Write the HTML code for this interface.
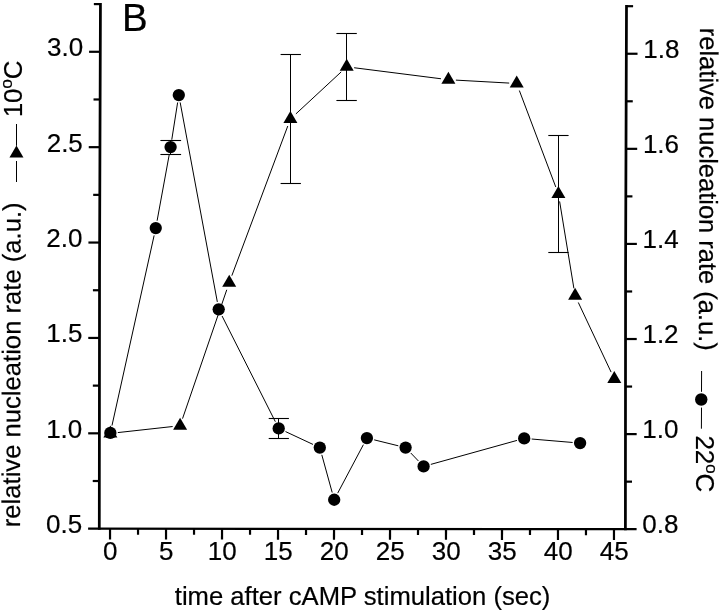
<!DOCTYPE html>
<html lang="en">
<head>
<meta charset="utf-8">
<title>Relative nucleation rate after cAMP stimulation</title>
<style>
html,body{margin:0;padding:0;background:#fff;}
body{width:720px;height:611px;overflow:hidden;}
svg{display:block;filter:grayscale(1);}
svg text{font-family:"Liberation Sans", Arial, Helvetica, sans-serif;fill:#000;stroke:#000;stroke-width:0.2px;}
</style>
</head>
<body>
<svg width="720" height="611" viewBox="0 0 720 611">
<rect width="720" height="611" fill="#fff"/>
<polyline points="100.45,3 99.54,267 99.3,529.8" fill="none" stroke="#000" stroke-width="2.75" stroke-linejoin="round"/>
<polyline points="626.5,5.1 625.58,267 625.4,530.3" fill="none" stroke="#000" stroke-width="2.75" stroke-linejoin="round"/>
<line x1="88.1" y1="528.7" x2="636.6" y2="529.2" stroke="#000" stroke-width="2.2" stroke-linecap="butt"/>
<line x1="92.74" y1="481.01" x2="99.34" y2="481.01" stroke="#000" stroke-width="2.2" stroke-linecap="butt"/>
<line x1="88.19" y1="433.32" x2="99.39" y2="433.32" stroke="#000" stroke-width="2.2" stroke-linecap="butt"/>
<line x1="92.83" y1="385.63" x2="99.43" y2="385.63" stroke="#000" stroke-width="2.2" stroke-linecap="butt"/>
<line x1="88.27" y1="337.94" x2="99.47" y2="337.94" stroke="#000" stroke-width="2.2" stroke-linecap="butt"/>
<line x1="92.92" y1="290.25" x2="99.52" y2="290.25" stroke="#000" stroke-width="2.2" stroke-linecap="butt"/>
<line x1="88.42" y1="242.55" x2="99.62" y2="242.55" stroke="#000" stroke-width="2.2" stroke-linecap="butt"/>
<line x1="93.19" y1="194.86" x2="99.79" y2="194.86" stroke="#000" stroke-width="2.2" stroke-linecap="butt"/>
<line x1="88.75" y1="147.17" x2="99.95" y2="147.17" stroke="#000" stroke-width="2.2" stroke-linecap="butt"/>
<line x1="93.52" y1="99.48" x2="100.12" y2="99.48" stroke="#000" stroke-width="2.2" stroke-linecap="butt"/>
<line x1="89.08" y1="51.79" x2="100.28" y2="51.79" stroke="#000" stroke-width="2.2" stroke-linecap="butt"/>
<line x1="93.85" y1="4.1" x2="100.45" y2="4.1" stroke="#000" stroke-width="2.2" stroke-linecap="butt"/>
<line x1="625.43" y1="481.65" x2="632.03" y2="481.65" stroke="#000" stroke-width="2.2" stroke-linecap="butt"/>
<line x1="625.47" y1="434.11" x2="636.67" y2="434.11" stroke="#000" stroke-width="2.2" stroke-linecap="butt"/>
<line x1="625.5" y1="386.56" x2="632.1" y2="386.56" stroke="#000" stroke-width="2.2" stroke-linecap="butt"/>
<line x1="625.53" y1="339.02" x2="636.73" y2="339.02" stroke="#000" stroke-width="2.2" stroke-linecap="butt"/>
<line x1="625.56" y1="291.47" x2="632.16" y2="291.47" stroke="#000" stroke-width="2.2" stroke-linecap="butt"/>
<line x1="625.66" y1="243.93" x2="636.86" y2="243.93" stroke="#000" stroke-width="2.2" stroke-linecap="butt"/>
<line x1="625.83" y1="196.38" x2="632.43" y2="196.38" stroke="#000" stroke-width="2.2" stroke-linecap="butt"/>
<line x1="626" y1="148.84" x2="637.2" y2="148.84" stroke="#000" stroke-width="2.2" stroke-linecap="butt"/>
<line x1="626.16" y1="101.29" x2="632.76" y2="101.29" stroke="#000" stroke-width="2.2" stroke-linecap="butt"/>
<line x1="626.33" y1="53.75" x2="637.53" y2="53.75" stroke="#000" stroke-width="2.2" stroke-linecap="butt"/>
<line x1="626.5" y1="6.2" x2="633.1" y2="6.2" stroke="#000" stroke-width="2.2" stroke-linecap="butt"/>
<line x1="110.04" y1="528.71" x2="110.02" y2="539.51" stroke="#000" stroke-width="2.2" stroke-linecap="butt"/>
<line x1="138.04" y1="528.74" x2="138.03" y2="534.74" stroke="#000" stroke-width="2.2" stroke-linecap="butt"/>
<line x1="166.04" y1="528.76" x2="166.01" y2="539.56" stroke="#000" stroke-width="2.2" stroke-linecap="butt"/>
<line x1="194.03" y1="528.79" x2="194.02" y2="534.79" stroke="#000" stroke-width="2.2" stroke-linecap="butt"/>
<line x1="222.03" y1="528.82" x2="222.01" y2="539.62" stroke="#000" stroke-width="2.2" stroke-linecap="butt"/>
<line x1="250.03" y1="528.84" x2="250.02" y2="534.84" stroke="#000" stroke-width="2.2" stroke-linecap="butt"/>
<line x1="278.03" y1="528.87" x2="278.01" y2="539.67" stroke="#000" stroke-width="2.2" stroke-linecap="butt"/>
<line x1="306.02" y1="528.9" x2="306.01" y2="534.9" stroke="#000" stroke-width="2.2" stroke-linecap="butt"/>
<line x1="334.02" y1="528.92" x2="334" y2="539.72" stroke="#000" stroke-width="2.2" stroke-linecap="butt"/>
<line x1="362.02" y1="528.95" x2="362.01" y2="534.95" stroke="#000" stroke-width="2.2" stroke-linecap="butt"/>
<line x1="390.02" y1="528.98" x2="390" y2="539.78" stroke="#000" stroke-width="2.2" stroke-linecap="butt"/>
<line x1="418.02" y1="529" x2="418" y2="535" stroke="#000" stroke-width="2.2" stroke-linecap="butt"/>
<line x1="446.01" y1="529.03" x2="445.99" y2="539.83" stroke="#000" stroke-width="2.2" stroke-linecap="butt"/>
<line x1="474.01" y1="529.06" x2="474" y2="535.06" stroke="#000" stroke-width="2.2" stroke-linecap="butt"/>
<line x1="502.01" y1="529.08" x2="501.99" y2="539.88" stroke="#000" stroke-width="2.2" stroke-linecap="butt"/>
<line x1="530.01" y1="529.11" x2="529.99" y2="535.11" stroke="#000" stroke-width="2.2" stroke-linecap="butt"/>
<line x1="558" y1="529.14" x2="557.98" y2="539.94" stroke="#000" stroke-width="2.2" stroke-linecap="butt"/>
<line x1="586" y1="529.16" x2="585.99" y2="535.16" stroke="#000" stroke-width="2.2" stroke-linecap="butt"/>
<line x1="614" y1="529.19" x2="613.98" y2="539.99" stroke="#000" stroke-width="2.2" stroke-linecap="butt"/>
<text x="110.19" y="559.71" font-size="26" text-anchor="middle">0</text>
<text x="166.19" y="559.76" font-size="26" text-anchor="middle">5</text>
<text x="222.18" y="559.82" font-size="26" text-anchor="middle">10</text>
<text x="278.18" y="559.87" font-size="26" text-anchor="middle">15</text>
<text x="334.17" y="559.92" font-size="26" text-anchor="middle">20</text>
<text x="390.17" y="559.98" font-size="26" text-anchor="middle">25</text>
<text x="446.16" y="560.03" font-size="26" text-anchor="middle">30</text>
<text x="502.16" y="560.08" font-size="26" text-anchor="middle">35</text>
<text x="558.15" y="560.14" font-size="26" text-anchor="middle">40</text>
<text x="614.15" y="560.19" font-size="26" text-anchor="middle">45</text>
<text x="82.2" y="533.05" font-size="26" text-anchor="end">0.5</text>
<text x="82.29" y="437.67" font-size="26" text-anchor="end">1.0</text>
<text x="82.37" y="342.29" font-size="26" text-anchor="end">1.5</text>
<text x="82.52" y="246.9" font-size="26" text-anchor="end">2.0</text>
<text x="82.85" y="151.52" font-size="26" text-anchor="end">2.5</text>
<text x="83.18" y="56.14" font-size="26" text-anchor="end">3.0</text>
<text x="642.3" y="533.4" font-size="26" text-anchor="start">0.8</text>
<text x="642.37" y="438.31" font-size="26" text-anchor="start">1.0</text>
<text x="642.43" y="343.22" font-size="26" text-anchor="start">1.2</text>
<text x="642.56" y="248.13" font-size="26" text-anchor="start">1.4</text>
<text x="642.9" y="153.04" font-size="26" text-anchor="start">1.6</text>
<text x="643.23" y="57.95" font-size="26" text-anchor="start">1.8</text>
<line x1="111.97" y1="425.58" x2="154.13" y2="235.42" stroke="#000" stroke-width="1" stroke-linecap="butt"/>
<line x1="157.1" y1="220.72" x2="169.25" y2="154.48" stroke="#000" stroke-width="1" stroke-linecap="butt"/>
<line x1="171.77" y1="139.69" x2="177.63" y2="102.46" stroke="#000" stroke-width="1" stroke-linecap="butt"/>
<line x1="180.17" y1="102.42" x2="217.33" y2="301.93" stroke="#000" stroke-width="1" stroke-linecap="butt"/>
<line x1="222.07" y1="316" x2="275.33" y2="421.7" stroke="#000" stroke-width="1" stroke-linecap="butt"/>
<line x1="285.5" y1="431.57" x2="313" y2="444.43" stroke="#000" stroke-width="1" stroke-linecap="butt"/>
<line x1="321.8" y1="454.83" x2="332.2" y2="492.52" stroke="#000" stroke-width="1" stroke-linecap="butt"/>
<line x1="337.71" y1="493.12" x2="363.39" y2="444.68" stroke="#000" stroke-width="1" stroke-linecap="butt"/>
<line x1="374.18" y1="439.85" x2="398.32" y2="445.8" stroke="#000" stroke-width="1" stroke-linecap="butt"/>
<line x1="410.79" y1="453.02" x2="418.41" y2="460.98" stroke="#000" stroke-width="1" stroke-linecap="butt"/>
<line x1="430.83" y1="464.39" x2="516.97" y2="440.41" stroke="#000" stroke-width="1" stroke-linecap="butt"/>
<line x1="531.67" y1="439.03" x2="572.63" y2="442.47" stroke="#000" stroke-width="1" stroke-linecap="butt"/>
<line x1="117.8" y1="432.58" x2="172.65" y2="426.52" stroke="#000" stroke-width="1" stroke-linecap="butt"/>
<line x1="182.54" y1="418.61" x2="226.76" y2="289.79" stroke="#000" stroke-width="1" stroke-linecap="butt"/>
<line x1="231.83" y1="275.67" x2="287.77" y2="126.03" stroke="#000" stroke-width="1" stroke-linecap="butt"/>
<line x1="295.9" y1="113.9" x2="341.2" y2="71.9" stroke="#000" stroke-width="1" stroke-linecap="butt"/>
<line x1="354.14" y1="67.74" x2="440.96" y2="78.76" stroke="#000" stroke-width="1" stroke-linecap="butt"/>
<line x1="455.89" y1="80.12" x2="509.21" y2="83.08" stroke="#000" stroke-width="1" stroke-linecap="butt"/>
<line x1="519.35" y1="90.52" x2="555.75" y2="186.98" stroke="#000" stroke-width="1" stroke-linecap="butt"/>
<line x1="559.62" y1="201.4" x2="573.88" y2="288.3" stroke="#000" stroke-width="1" stroke-linecap="butt"/>
<line x1="578.3" y1="302.48" x2="611.1" y2="372.12" stroke="#000" stroke-width="1" stroke-linecap="butt"/>
<line x1="170.5" y1="140.5" x2="170.5" y2="154.5" stroke="#000" stroke-width="1" stroke-linecap="butt"/>
<line x1="160.4" y1="140.5" x2="181.1" y2="140.5" stroke="#000" stroke-width="1.1" stroke-linecap="butt"/>
<line x1="160.4" y1="154.5" x2="181.1" y2="154.5" stroke="#000" stroke-width="1.1" stroke-linecap="butt"/>
<line x1="278.5" y1="418.5" x2="278.5" y2="438.5" stroke="#000" stroke-width="1" stroke-linecap="butt"/>
<line x1="268.7" y1="418.5" x2="288.9" y2="418.5" stroke="#000" stroke-width="1.1" stroke-linecap="butt"/>
<line x1="268.7" y1="438.5" x2="288.9" y2="438.5" stroke="#000" stroke-width="1.1" stroke-linecap="butt"/>
<line x1="290.5" y1="54.5" x2="290.5" y2="183.5" stroke="#000" stroke-width="1" stroke-linecap="butt"/>
<line x1="280.6" y1="54.5" x2="300.9" y2="54.5" stroke="#000" stroke-width="1.1" stroke-linecap="butt"/>
<line x1="280.6" y1="183.5" x2="300.9" y2="183.5" stroke="#000" stroke-width="1.1" stroke-linecap="butt"/>
<line x1="346.5" y1="33.5" x2="346.5" y2="100.5" stroke="#000" stroke-width="1" stroke-linecap="butt"/>
<line x1="336.4" y1="33.5" x2="356.8" y2="33.5" stroke="#000" stroke-width="1.1" stroke-linecap="butt"/>
<line x1="336.4" y1="100.5" x2="356.8" y2="100.5" stroke="#000" stroke-width="1.1" stroke-linecap="butt"/>
<line x1="558.5" y1="135.5" x2="558.5" y2="252.5" stroke="#000" stroke-width="1" stroke-linecap="butt"/>
<line x1="548.3" y1="135.5" x2="568.6" y2="135.5" stroke="#000" stroke-width="1.1" stroke-linecap="butt"/>
<line x1="548.3" y1="252.5" x2="568.6" y2="252.5" stroke="#000" stroke-width="1.1" stroke-linecap="butt"/>
<circle cx="110.35" cy="432.9" r="6.15" fill="#000"/>
<circle cx="155.75" cy="228.1" r="6.15" fill="#000"/>
<circle cx="170.6" cy="147.1" r="6.15" fill="#000"/>
<circle cx="178.8" cy="95.05" r="6.15" fill="#000"/>
<circle cx="218.7" cy="309.3" r="6.15" fill="#000"/>
<circle cx="278.7" cy="428.4" r="6.15" fill="#000"/>
<circle cx="319.8" cy="447.6" r="6.15" fill="#000"/>
<circle cx="334.2" cy="499.75" r="6.15" fill="#000"/>
<circle cx="366.9" cy="438.05" r="6.15" fill="#000"/>
<circle cx="405.6" cy="447.6" r="6.15" fill="#000"/>
<circle cx="423.6" cy="466.4" r="6.15" fill="#000"/>
<circle cx="524.2" cy="438.4" r="6.15" fill="#000"/>
<circle cx="580.1" cy="443.1" r="6.15" fill="#000"/>
<polygon points="110.35,425.4 103.35,437.4 117.35,437.4" fill="#000"/>
<polygon points="180.1,417.7 173.1,429.7 187.1,429.7" fill="#000"/>
<polygon points="229.2,274.7 222.2,286.7 236.2,286.7" fill="#000"/>
<polygon points="290.4,111 283.4,123 297.4,123" fill="#000"/>
<polygon points="346.7,58.8 339.7,70.8 353.7,70.8" fill="#000"/>
<polygon points="448.4,71.7 441.4,83.7 455.4,83.7" fill="#000"/>
<polygon points="516.7,75.5 509.7,87.5 523.7,87.5" fill="#000"/>
<polygon points="558.4,186 551.4,198 565.4,198" fill="#000"/>
<polygon points="575.1,287.7 568.1,299.7 582.1,299.7" fill="#000"/>
<polygon points="614.3,370.9 607.3,382.9 621.3,382.9" fill="#000"/>
<text x="174.8" y="605.2" font-size="25.6" textLength="375.6" lengthAdjust="spacingAndGlyphs">time after cAMP stimulation (sec)</text>
<text transform="translate(20.0,527.2) rotate(-89.88)" font-size="25.6" textLength="324.8" lengthAdjust="spacingAndGlyphs">relative nucleation rate (a.u.)</text>
<line x1="16.5" y1="182" x2="16.5" y2="161" stroke="#000" stroke-width="1" stroke-linecap="butt"/>
<line x1="16.5" y1="145.8" x2="16.5" y2="124" stroke="#000" stroke-width="1" stroke-linecap="butt"/>
<polygon points="16.45,145.45 9.45,157.45 23.45,157.45" fill="#000"/>
<text transform="translate(22.0,117.2) rotate(-90)" font-size="26" letter-spacing="-0.2">10<tspan font-size="17.4" dy="-10">o</tspan><tspan dy="10">C</tspan></text>
<text transform="translate(700.0,27.8) rotate(90.2)" font-size="25.6" textLength="323.0" lengthAdjust="spacingAndGlyphs">relative nucleation rate (a.u.)</text>
<line x1="701.6" y1="371" x2="701.5" y2="391.8" stroke="#000" stroke-width="1" stroke-linecap="butt"/>
<line x1="701.5" y1="407.6" x2="701.4" y2="428.7" stroke="#000" stroke-width="1" stroke-linecap="butt"/>
<circle cx="701.25" cy="399.5" r="6.2" fill="#000"/>
<text transform="translate(696.0,435.5) rotate(90)" font-size="26" letter-spacing="-0.2">22<tspan font-size="17.4" dy="-10">o</tspan><tspan dy="10">C</tspan></text>
<text x="121.9" y="30.9" font-size="38.5">B</text>
</svg>
</body>
</html>
